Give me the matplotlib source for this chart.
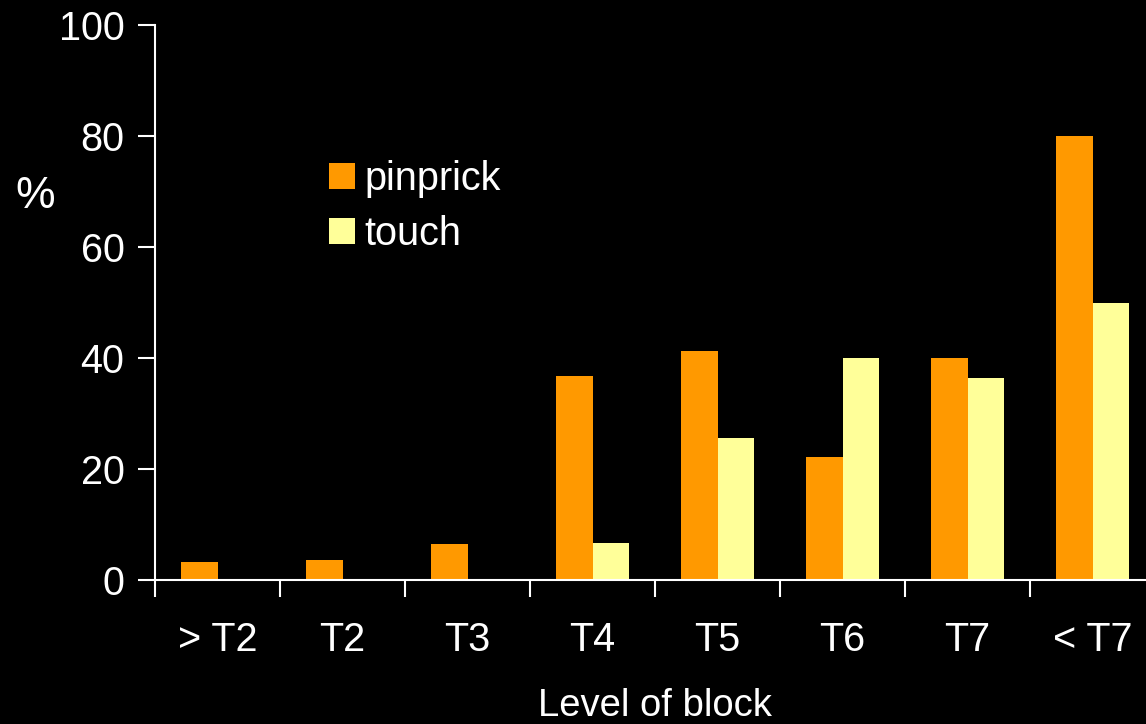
import matplotlib.pyplot as plt
import numpy as np

plt.rcParams['font.family'] = ['Liberation Sans', 'DejaVu Sans']

# dati
livelli = ['> T2', 'T2', 'T3', 'T4', 'T5', 'T6', 'T7', '< T7']
pinprick = [3.2, 3.6, 6.5, 36.7, 41.2, 22.2, 40.0, 80.0]
touch = [0, 0, 0, 6.7, 25.6, 40.0, 36.4, 49.8]

arancio = '#FF9900'
giallo = '#FFFF99'
W, H = 1146, 724

fig = plt.figure(figsize=(W / 100, H / 100), dpi=100, facecolor='black')
# l'asse esce un poco dal bordo destro, come nell'originale
ax = fig.add_axes([155 / W, (H - 580) / H, 1000 / W, 555.3 / H])
ax.set_facecolor('black')

x = np.arange(len(livelli))
w = 0.29
ax.bar(x - w / 2, pinprick, w, color=arancio, label='pinprick')
ax.bar(x + w / 2, touch, w, color=giallo, label='touch')

ax.set_xlim(-0.5, 7.5)
ax.set_ylim(0, 100)
ax.set_yticks([0, 20, 40, 60, 80, 100])
ax.set_xticks(np.arange(len(livelli) + 1) - 0.5, minor=False)
ax.set_xticklabels([])
ax.set_xticks(x, minor=True)
ax.set_xticklabels(livelli, minor=True)
ax.tick_params(axis='x', which='minor', length=0, pad=29.5, labelsize=28.5, colors='white')
ax.tick_params(axis='x', which='major', length=12, width=1.5, colors='white')
ax.tick_params(axis='y', length=12, width=1.5, pad=10, labelsize=28.5, colors='white')

for s in ['top', 'right']:
    ax.spines[s].set_visible(False)
for s in ['left', 'bottom']:
    ax.spines[s].set_color('white')
    ax.spines[s].set_linewidth(1.5)

fig.text(15 / W, 1 - 196 / H, '%', color='white', fontsize=32, va='center', ha='left')
fig.text(655 / W, 0.5 / H, 'Level of block', color='white', fontsize=27.5,
         ha='center', va='bottom')

leg = ax.legend(loc='upper left', bbox_to_anchor=(329 / W, 1 - 160 / H),
                bbox_transform=fig.transFigure, frameon=False, fontsize=28.5,
                handlelength=0.65, handleheight=0.65, handletextpad=0.25,
                labelspacing=0.42, borderpad=0, borderaxespad=0)
for t in leg.get_texts():
    t.set_color('white')

fig.savefig('out.png', dpi=100, facecolor='black')
